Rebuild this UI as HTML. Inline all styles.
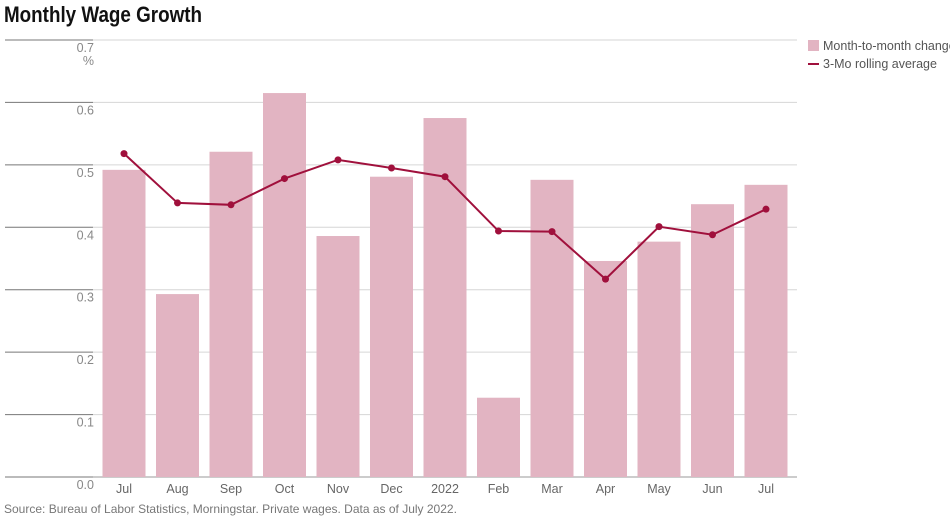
<!DOCTYPE html>
<html><head><meta charset="utf-8"><style>
body{margin:0;background:#fff;width:950px;height:519px;overflow:hidden;font-family:"Liberation Sans",sans-serif}
</style></head><body>
<svg width="950" height="519" xmlns="http://www.w3.org/2000/svg">
<text x="4" y="22" font-size="22" font-weight="bold" fill="#111" textLength="198" lengthAdjust="spacingAndGlyphs">Monthly Wage Growth</text>
<g id="grid"></g><g id="bars"></g><g id="line"></g><g id="xlab"></g>
<g>
<rect x="808" y="40" width="11" height="11" fill="#e2b4c2"/>
<text x="823" y="50" font-size="12.5" fill="#555">Month-to-month change</text>
<line x1="808" y1="64" x2="819" y2="64" stroke="#a0103c" stroke-width="2"/>
<text x="823" y="68" font-size="12.5" fill="#555">3-Mo rolling average</text>
</g>
<text x="4" y="513" font-size="12" fill="#777">Source: Bureau of Labor Statistics, Morningstar. Private wages. Data as of July 2022.</text>
</svg>
<script>
const categories=["Jul","Aug","Sep","Oct","Nov","Dec","2022","Feb","Mar","Apr","May","Jun","Jul"];
const monthly=[0.492,0.293,0.521,0.615,0.386,0.481,0.575,0.127,0.476,0.346,0.377,0.437,0.468];
const rolling=[0.518,0.439,0.436,0.478,0.508,0.495,0.481,0.394,0.393,0.317,0.401,0.388,0.429];
const yTicks=[0,0.1,0.2,0.3,0.4,0.5,0.6,0.7];
const NS="http://www.w3.org/2000/svg";
const y=v=>477-v*624.3;
const x=i=>124+i*53.5;
function mk(t,a,p){const e=document.createElementNS(NS,t);for(const k in a)e.setAttribute(k,a[k]);p.appendChild(e);return e;}
const grid=document.getElementById('grid');
yTicks.forEach((t,i)=>{
  const g=mk('g',{},grid);
  
  
  mk('line',{x1:93,x2:797,y1:y(t),y2:y(t),stroke:i==0?'#999':'#d6d6d6','stroke-width':1},g);
  mk('line',{x1:5,x2:93,y1:y(t),y2:y(t),stroke:'#777','stroke-width':1},g);
  const tx=mk('text',{x:94,y:y(t)+12,'font-size':12.5,fill:'#888','text-anchor':'end'},g);
  tx.textContent=t.toFixed(1);
  
  
});
const pc=mk('text',{x:94,y:y(0.7)+25,'font-size':12.5,fill:'#888','text-anchor':'end'},grid);
pc.textContent='%';


const bars=document.getElementById('bars');
monthly.forEach((v,i)=>{
  const r=mk('rect',{x:x(i)-21.5,y:y(v),width:43,height:y(0)-y(v),fill:'#e2b4c2'},bars);
  
  
});
const lg=document.getElementById('line');
const pl=mk('polyline',{points:rolling.map((v,i)=>x(i)+','+y(v)).join(' '),fill:'none',stroke:'#a0103c','stroke-width':2},lg);


rolling.forEach((v,i)=>{
  const c=mk('circle',{cx:x(i),cy:y(v),r:3.5,fill:'#a0103c'},lg);
  
  
});
const xl=document.getElementById('xlab');
categories.forEach((c,i)=>{
  const t=mk('text',{x:x(i),y:493,'font-size':12.5,fill:'#666','text-anchor':'middle'},xl);
  t.textContent=c;
  
  
});
</script>
</body></html>
